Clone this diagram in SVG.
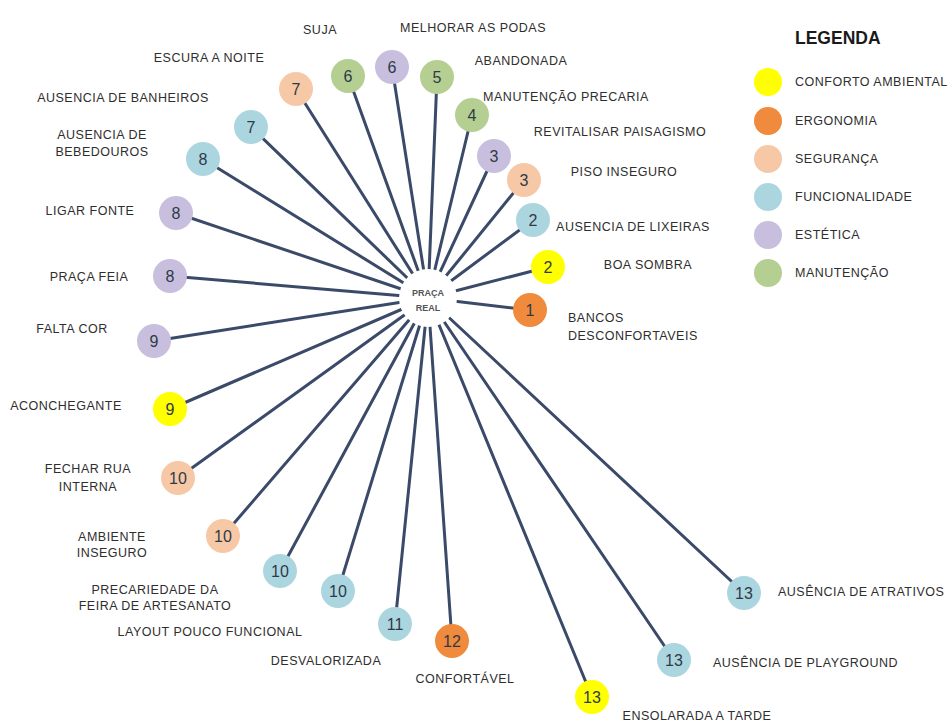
<svg xmlns="http://www.w3.org/2000/svg" width="952" height="724" viewBox="0 0 952 724">
  <style>
    .lbl { font-family: "Liberation Sans", Arial, sans-serif; font-size: 12.5px; letter-spacing: 0.5px; fill: #2e2e2e; }
    .num { font-family: "Liberation Sans", Arial, sans-serif; font-size: 16px; fill: #2f3a48; text-anchor: middle; }
    .edge { stroke: #3a4a68; stroke-width: 3; stroke-linecap: round; }
    .conf { fill: #ffff00; }
    .ergo { fill: #f08a3c; }
    .seg { fill: #f7c8a6; }
    .func { fill: #acd6df; }
    .est { fill: #c7bfdd; }
    .man { fill: #b5cf92; }
  </style>
  <rect width="952" height="724" fill="#ffffff"/>

  <!-- spokes from the hub to each item -->
  <g id="connectors">
    <line class="edge" x1="428" y1="298" x2="296" y2="89"/>
    <line class="edge" x1="428" y1="298" x2="348" y2="76"/>
    <line class="edge" x1="428" y1="298" x2="392" y2="67"/>
    <line class="edge" x1="428" y1="298" x2="437" y2="77"/>
    <line class="edge" x1="428" y1="298" x2="472" y2="115"/>
    <line class="edge" x1="428" y1="298" x2="494" y2="156"/>
    <line class="edge" x1="428" y1="298" x2="524" y2="180"/>
    <line class="edge" x1="428" y1="298" x2="533" y2="220"/>
    <line class="edge" x1="428" y1="298" x2="548" y2="267"/>
    <line class="edge" x1="428" y1="298" x2="530" y2="310"/>
    <line class="edge" x1="428" y1="298" x2="251" y2="127"/>
    <line class="edge" x1="428" y1="298" x2="203" y2="159"/>
    <line class="edge" x1="428" y1="298" x2="176" y2="213"/>
    <line class="edge" x1="428" y1="298" x2="170" y2="276"/>
    <line class="edge" x1="428" y1="298" x2="154" y2="341"/>
    <line class="edge" x1="428" y1="298" x2="170" y2="409"/>
    <line class="edge" x1="428" y1="298" x2="178" y2="478"/>
    <line class="edge" x1="428" y1="298" x2="223" y2="536"/>
    <line class="edge" x1="428" y1="298" x2="280" y2="571"/>
    <line class="edge" x1="428" y1="298" x2="338" y2="591"/>
    <line class="edge" x1="428" y1="298" x2="395" y2="624"/>
    <line class="edge" x1="428" y1="298" x2="452" y2="641"/>
    <line class="edge" x1="428" y1="298" x2="592" y2="697"/>
    <line class="edge" x1="428" y1="298" x2="674" y2="660"/>
    <line class="edge" x1="428" y1="298" x2="744" y2="593"/>
  </g>

  <!-- hub -->
  <g id="hub">
    <circle cx="428" cy="298" r="29" fill="#ffffff"/>
    <text x="428" y="296" text-anchor="middle" font-family="Liberation Sans Narrow, Liberation Sans, sans-serif" font-size="9" font-weight="bold" fill="#555">PRAÇA</text>
    <text x="428" y="311" text-anchor="middle" font-family="Liberation Sans Narrow, Liberation Sans, sans-serif" font-size="9" font-weight="bold" fill="#555">REAL</text>
  </g>

  <!-- items, clockwise from the top-left -->
  <g id="n-escura"><circle class="seg" cx="296" cy="89" r="17"/><text class="num" x="296" y="95">7</text><text class="lbl" x="209" y="62" text-anchor="middle">ESCURA A NOITE</text></g>
  <g id="n-suja"><circle class="man" cx="348" cy="76" r="17"/><text class="num" x="348" y="82">6</text><text class="lbl" x="320" y="34" text-anchor="middle">SUJA</text></g>
  <g id="n-podas"><circle class="est" cx="392" cy="67" r="17"/><text class="num" x="392" y="73">6</text><text class="lbl" x="473" y="32" text-anchor="middle">MELHORAR AS PODAS</text></g>
  <g id="n-abandonada"><circle class="man" cx="437" cy="77" r="17"/><text class="num" x="437" y="83">5</text><text class="lbl" x="521" y="65" text-anchor="middle">ABANDONADA</text></g>
  <g id="n-manutencao"><circle class="man" cx="472" cy="115" r="17"/><text class="num" x="472" y="121">4</text><text class="lbl" x="566" y="101" text-anchor="middle">MANUTENÇÃO PRECARIA</text></g>
  <g id="n-paisagismo"><circle class="est" cx="494" cy="156" r="17"/><text class="num" x="494" y="162">3</text><text class="lbl" x="620" y="136" text-anchor="middle">REVITALISAR PAISAGISMO</text></g>
  <g id="n-piso"><circle class="seg" cx="524" cy="180" r="17"/><text class="num" x="524" y="186">3</text><text class="lbl" x="624" y="176" text-anchor="middle">PISO INSEGURO</text></g>
  <g id="n-lixeiras"><circle class="func" cx="533" cy="220" r="17"/><text class="num" x="533" y="226">2</text><text class="lbl" x="633" y="231" text-anchor="middle">AUSENCIA DE LIXEIRAS</text></g>
  <g id="n-sombra"><circle class="conf" cx="548" cy="267" r="17"/><text class="num" x="548" y="273">2</text><text class="lbl" x="648" y="269" text-anchor="middle">BOA SOMBRA</text></g>
  <g id="n-bancos"><circle class="ergo" cx="530" cy="310" r="17"/><text class="num" x="530" y="316">1</text><text class="lbl" x="568" y="322">BANCOS</text><text class="lbl" x="568" y="340">DESCONFORTAVEIS</text></g>

  <g id="n-banheiros"><circle class="func" cx="251" cy="127" r="17"/><text class="num" x="251" y="133">7</text><text class="lbl" x="123" y="102" text-anchor="middle">AUSENCIA DE BANHEIROS</text></g>
  <g id="n-bebedouros"><circle class="func" cx="203" cy="159" r="17"/><text class="num" x="203" y="165">8</text><text class="lbl" x="102" y="139" text-anchor="middle">AUSENCIA DE</text><text class="lbl" x="102" y="156" text-anchor="middle">BEBEDOUROS</text></g>
  <g id="n-fonte"><circle class="est" cx="176" cy="213" r="17"/><text class="num" x="176" y="219">8</text><text class="lbl" x="90" y="215" text-anchor="middle">LIGAR FONTE</text></g>
  <g id="n-feia"><circle class="est" cx="170" cy="276" r="17"/><text class="num" x="170" y="282">8</text><text class="lbl" x="89" y="281" text-anchor="middle">PRAÇA FEIA</text></g>
  <g id="n-cor"><circle class="est" cx="154" cy="341" r="17"/><text class="num" x="154" y="347">9</text><text class="lbl" x="72" y="333" text-anchor="middle">FALTA COR</text></g>
  <g id="n-aconchegante"><circle class="conf" cx="170" cy="409" r="17"/><text class="num" x="170" y="415">9</text><text class="lbl" x="66" y="410" text-anchor="middle">ACONCHEGANTE</text></g>
  <g id="n-rua"><circle class="seg" cx="178" cy="478" r="17"/><text class="num" x="178" y="484">10</text><text class="lbl" x="88" y="473" text-anchor="middle">FECHAR RUA</text><text class="lbl" x="88" y="491" text-anchor="middle">INTERNA</text></g>
  <g id="n-ambiente"><circle class="seg" cx="223" cy="536" r="17"/><text class="num" x="223" y="542">10</text><text class="lbl" x="112" y="541" text-anchor="middle">AMBIENTE</text><text class="lbl" x="112" y="557" text-anchor="middle">INSEGURO</text></g>
  <g id="n-feira"><circle class="func" cx="280" cy="571" r="17"/><text class="num" x="280" y="577">10</text><text class="lbl" x="155" y="594" text-anchor="middle">PRECARIEDADE DA</text><text class="lbl" x="155" y="610" text-anchor="middle">FEIRA DE ARTESANATO</text></g>
  <g id="n-layout"><circle class="func" cx="338" cy="591" r="17"/><text class="num" x="338" y="597">10</text><text class="lbl" x="210" y="636" text-anchor="middle">LAYOUT POUCO FUNCIONAL</text></g>
  <g id="n-desvalorizada"><circle class="func" cx="395" cy="624" r="17"/><text class="num" x="395" y="630">11</text><text class="lbl" x="326" y="665" text-anchor="middle">DESVALORIZADA</text></g>
  <g id="n-confortavel"><circle class="ergo" cx="452" cy="641" r="17"/><text class="num" x="452" y="647">12</text><text class="lbl" x="465" y="683" text-anchor="middle">CONFORTÁVEL</text></g>
  <g id="n-ensolarada"><circle class="conf" cx="592" cy="697" r="17"/><text class="num" x="592" y="703">13</text><text class="lbl" x="697" y="720" text-anchor="middle">ENSOLARADA A TARDE</text></g>
  <g id="n-playground"><circle class="func" cx="674" cy="660" r="17"/><text class="num" x="674" y="666">13</text><text class="lbl" x="713" y="667">AUSÊNCIA DE PLAYGROUND</text></g>
  <g id="n-atrativos"><circle class="func" cx="744" cy="593" r="17"/><text class="num" x="744" y="599">13</text><text class="lbl" x="778" y="596">AUSÊNCIA DE ATRATIVOS</text></g>

  <!-- key -->
  <g id="legend">
    <text x="795" y="44" font-family="Liberation Sans, Arial, sans-serif" font-size="17.5" font-weight="bold" fill="#1a1a1a">LEGENDA</text>
    <circle class="conf" cx="768" cy="82" r="14"/><text class="lbl" x="795" y="86">CONFORTO AMBIENTAL</text>
    <circle class="ergo" cx="768" cy="121" r="14"/><text class="lbl" x="795" y="125">ERGONOMIA</text>
    <circle class="seg" cx="768" cy="159" r="14"/><text class="lbl" x="795" y="163">SEGURANÇA</text>
    <circle class="func" cx="768" cy="197" r="14"/><text class="lbl" x="795" y="201">FUNCIONALIDADE</text>
    <circle class="est" cx="768" cy="235" r="14"/><text class="lbl" x="795" y="239">ESTÉTICA</text>
    <circle class="man" cx="768" cy="273" r="14"/><text class="lbl" x="795" y="277">MANUTENÇÃO</text>
  </g>
</svg>
